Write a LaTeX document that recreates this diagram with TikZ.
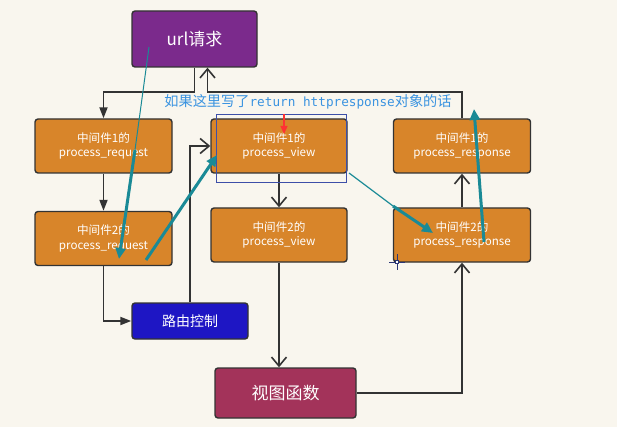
\documentclass[tikz,border=0pt]{standalone}
\usepackage{fontspec}
\setmainfont{Noto Sans CJK SC}
\newfontfamily\codefont{DejaVu Sans Mono}
\usetikzlibrary{arrows.meta}
\definecolor{bgcol}{HTML}{F9F6EE}
\definecolor{urlcol}{HTML}{7B2A8C}
\definecolor{mwcol}{HTML}{D8852A}
\definecolor{routecol}{HTML}{1E16C4}
\definecolor{fncol}{HTML}{A3335A}
\definecolor{linecol}{HTML}{333333}
\definecolor{notecol}{HTML}{3A93E0}
\definecolor{hlcol}{HTML}{3D4FA8}
\definecolor{tealcol}{HTML}{1A8A96}
\def\open{{Straight Barb[length=9pt,width=15pt,line width=1.6pt]}}
\def\solid{{Triangle[length=11pt,width=8pt]}}
\tikzset{
  box/.style={draw=linecol, line width=1.4pt, rounded corners=3pt, text=white,
    align=center, inner sep=0pt},
  mw/.style={box, fill=mwcol, minimum width=137pt, minimum height=54pt,
    font=\fontsize{11.6}{14.8}\selectfont},
  wire/.style={draw=linecol, line width=1.8pt},
  tealmark/.style={tealcol, line width=3pt, -{Triangle[length=11pt,width=10pt]}}
}

\begin{document}
\begin{tikzpicture}[x=1pt, y=-1pt]
    \fill[bgcol] (0,0) rectangle (617,427);
    \useasboundingbox (0,0) rectangle (617,427);
    % boxes
    \node[box, fill=urlcol, minimum width=125pt, minimum height=56pt,
      font=\fontsize{17}{20}\selectfont] (url) at (194.5,39) {url请求};
    \node[mw] (reqA) at (103.5,146) {中间件1的\\process\_request};
    \node[mw] (reqB) at (103.5,238.5) {中间件2的\\process\_request};
    \node[mw, minimum width=136pt] (viewA) at (279,146) {中间件1的\\process\_view};
    \node[mw, minimum width=136pt] (viewB) at (279,235) {中间件2的\\process\_view};
    \node[mw] (respA) at (462,146) {中间件1的\\process\_response};
    \node[mw] (respB) at (462,235) {中间件2的\\process\_response};
    \node[box, fill=routecol, minimum width=116pt, minimum height=36pt,
      font=\fontsize{14}{16}\selectfont] (route) at (190,321) {路由控制};
    \node[box, fill=fncol, minimum width=141pt, minimum height=50pt,
      font=\fontsize{17}{20}\selectfont] (viewfn) at (285.5,393) {视图函数};
    \coordinate (bus) at (0,92);
    % connectors
    \draw[wire, -\solid] (url.south) -- (url.south |- bus) -| (reqA.north);
    \draw[wire, -\open] (respA.north) -- (respA.north |- bus) -| ([xshift=13pt]url.south);
    \draw[wire, -\solid] (reqA) -- (reqB);
    \draw[wire, -\solid] (reqB.south) |- (route.west);
    \draw[wire, -\open] (route.north) |- (viewA.west);
    \draw[wire, -\open] (viewA) -- (viewB);
    \draw[wire, -\open] (viewB.south) -- (viewB.south |- viewfn.north);
    \draw[wire, -\open] (viewfn.east) -| (respB.south);
    \draw[wire, -\open] (respB) -- (respA);
    % note
    \node[text=notecol, font=\fontsize{14.2}{16}\selectfont, inner sep=0pt] (note) at (308,102)
      {如果这里写了{\codefont\fontsize{12.7}{16}\selectfont return httpresponse}对象的话};
    \node[draw=hlcol, line width=0.8pt, minimum width=130pt, minimum height=68pt,
      inner sep=0pt] (hl) at (281,148) {};
    \draw[red!80!white, line width=1.2pt, -{Triangle[length=8pt,width=7pt]}] (284,114) -- (284,134);
    % teal marks
    \draw[tealcol, line width=1pt] (149,47) -- (135,150);
    \draw[tealmark] (135,150) -- (119,259);
    \draw[tealmark] (146,260) -- (217,155);
    \draw[tealcol, line width=1.2pt] (349,173) -- (393,206);
    \draw[tealmark] (393,206) -- (433,233);
    \draw[tealmark] (484,242) -- (474,109);
    % cursor
    \draw[hlcol!70!black, line width=1pt] (389,262) -- (405,262) (397,254) -- (397,270);
    \draw[hlcol!70!black, fill=white, line width=0.8pt] (395.5,260.5) rectangle (398.5,263.5);
\end{tikzpicture}
\end{document}
